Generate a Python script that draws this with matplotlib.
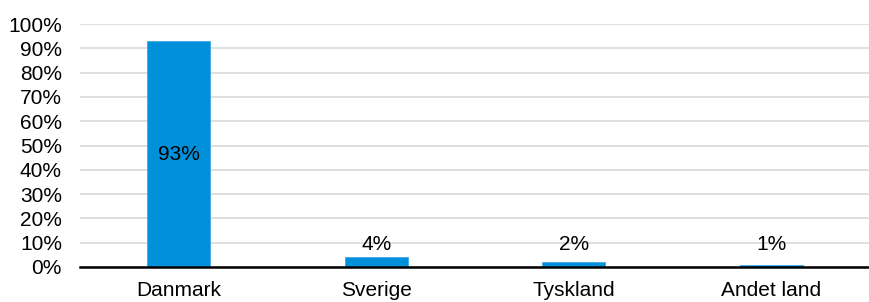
import numpy as np
import matplotlib.pyplot as plt

plt.rcParams['font.family'] = ['Liberation Sans', 'DejaVu Sans']

# data
countries = ['Danmark', 'Sverige', 'Tyskland', 'Andet land']
shares = [0.93, 0.04, 0.02, 0.01]
labels = ['93%', '4%', '2%', '1%']
yticks = np.arange(0, 1.01, 0.1)

fig = plt.figure(figsize=(8.7, 3.02), dpi=100)
ax = fig.add_axes([80 / 870, 35 / 302, 790 / 870, 243 / 302])

x = np.arange(len(countries))
ax.bar(x, shares, width=0.32, color='#0091DA', edgecolor='#3fa9e6', linewidth=0.6, zorder=3)

fs = 15
for xi, v, lab in zip(x, shares, labels):
    if v > 0.5:
        ax.text(xi, v / 2, lab, ha='center', va='center', fontsize=fs, color='black', zorder=4)
    else:
        ax.text(xi, 0.093, lab, ha='center', va='center', fontsize=fs, color='black', zorder=4)

ax.set_xlim(-0.5, len(countries) - 0.5)
ax.set_ylim(0, 1.0)
ax.set_yticks(yticks)
ax.set_yticklabels([f'{int(round(t * 100))}%' for t in yticks], fontsize=fs)
ax.set_xticks(x)
ax.set_xticklabels(countries, fontsize=fs)
ax.tick_params(axis='y', length=0, pad=13)
ax.tick_params(axis='x', length=0, pad=10)

ax.yaxis.grid(True, color='#d9d9d9', linewidth=1.2, zorder=0)
ax.set_axisbelow(True)
for s in ['top', 'right', 'left']:
    ax.spines[s].set_visible(False)
ax.spines['bottom'].set_color('black')
ax.spines['bottom'].set_linewidth(1.8)
ax.spines['bottom'].set_zorder(5)

fig.savefig('out.png', dpi=100)
